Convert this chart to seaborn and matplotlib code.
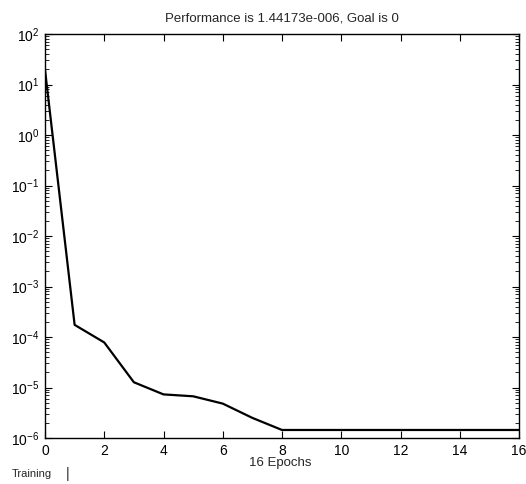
import numpy as np
import pandas as pd
import matplotlib
matplotlib.use('Agg')
import matplotlib.pyplot as plt
import seaborn as sns

# training performance per epoch
epochs = [0, 1, 2, 3, 4, 5, 6, 7, 8, 9, 10, 11, 12, 13, 14, 15, 16]
perf = [19.5, 1.74e-4, 7.8e-5, 1.27e-5, 7.3e-6, 6.7e-6, 4.8e-6, 2.5e-6,
        1.44173e-6, 1.44173e-6, 1.44173e-6, 1.44173e-6, 1.44173e-6,
        1.44173e-6, 1.44173e-6, 1.44173e-6, 1.44173e-6]
x_ticks = [0, 2, 4, 6, 8, 10, 12, 14, 16]
y_lim = (1e-6, 1e2)
title = 'Performance is 1.44173e-006, Goal is 0'

df = pd.DataFrame({'Epoch': epochs, 'Performance': perf})

sns.set_style('ticks')
plt.rcParams['font.family'] = ['Liberation Sans', 'DejaVu Sans']
plt.rcParams['mathtext.fontset'] = 'custom'
plt.rcParams['mathtext.rm'] = 'Liberation Sans'

fig = plt.figure(figsize=(5.26, 4.84), dpi=100)
ax = fig.add_axes([45 / 526, 1 - 438 / 484, 474 / 526, 404 / 484])
sns.lineplot(x='Epoch', y='Performance', data=df, color='black',
             linewidth=1.6, ax=ax)
ax.set_yscale('log')
ax.set_xlim(0, 16)
ax.set_ylim(*y_lim)
ax.set_xticks(x_ticks)
ax.set_yticks([10.0 ** k for k in range(-6, 3)])
ax.tick_params(which='both', direction='in', top=True, right=True,
               labelsize=10, colors='black', pad=4)
ax.tick_params(which='major', length=5, width=0.8)
ax.tick_params(which='minor', length=3, width=0.6)
ax.tick_params(axis='x', which='minor', bottom=False, top=False)
for s in ax.spines.values():
    s.set_linewidth(1.0)
    s.set_color('black')
ax.set_xlabel('')
ax.set_ylabel('')
ax.set_title(title, fontsize=9.5, pad=9)
fig.text(280 / 526, 1 - 463 / 484, '16 Epochs', ha='center', va='center',
         fontsize=9.5)
fig.text(12 / 526, 1 - 474 / 484, 'Training', ha='left', va='center',
         fontsize=8)
fig.text(68 / 526, 1 - 474 / 484, '|', ha='center', va='center',
         fontsize=10)

fig.savefig('out.png', dpi=100, facecolor='white')
plt.close()
